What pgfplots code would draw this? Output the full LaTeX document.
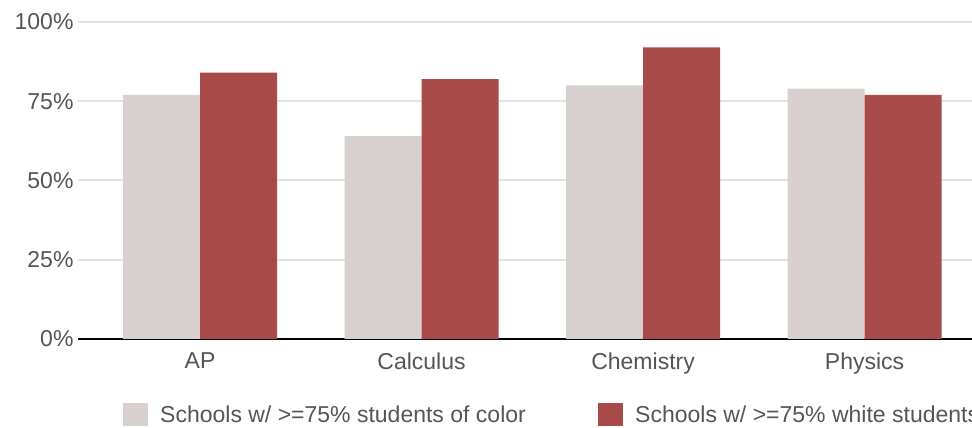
\documentclass[border=0pt]{standalone}
\usepackage{pgfplots}
\pgfplotsset{compat=1.18}
\usepackage{fontspec}
\setmainfont{Liberation Sans}
\definecolor{lightbar}{HTML}{D8D0CF}
\definecolor{redbar}{HTML}{A84A4A}
\definecolor{txt}{HTML}{555555}
\definecolor{gridc}{HTML}{E3E3E3}
\begin{document}
\begin{tikzpicture}
\begin{axis}[
  at={(78pt,89pt)}, anchor=south west,
  scale only axis, width=894pt, height=317pt,
  xmin=-0.551, xmax=3.485, ymin=0, ymax=100,
  ybar=0pt, bar width=77pt,
  /pgf/number format/assume math mode=true,
  xtick={0,1,2,3}, xticklabels={AP,Calculus,Chemistry,Physics},
  ytick={0,25,50,75,100},
  yticklabel={\pgfmathprintnumber{\tick}\%},
  ymajorgrids, grid style={gridc, line width=2pt},
  axis x line*=bottom, axis y line*=left,
  y axis line style={draw=none},
  x axis line style={black, line width=1.5pt},
  tick style={draw=none},
  tick label style={font=\fontsize{23}{27}\selectfont, text=txt},
  xticklabel style={yshift=-6pt},
  yticklabel style={xshift=-1pt},
  legend columns=2,
  legend style={at={(0,0)}, anchor=west, xshift=45pt, yshift=-75.5pt,
    draw=none, fill=none, inner sep=0pt,
    nodes={inner sep=0pt, font=\fontsize{23}{27}\selectfont, text=txt}},
  legend cell align=left,
  legend image code/.code={\fill[#1] (0pt,-11.5pt) rectangle (25pt,11.5pt); \path (37pt,0pt);},
]
\addplot[fill=lightbar, draw=none] coordinates {(0,77) (1,64) (2,80) (3,79)};
\addlegendentry{\makebox[438pt][l]{Schools w/ >=75\% students of color}}
\addplot[fill=redbar, draw=none] coordinates {(0,84) (1,82) (2,92) (3,77)};
\addlegendentry{Schools w/ >=75\% white students}
\end{axis}
\pgfresetboundingbox
\useasboundingbox (0,0) rectangle (972pt,428pt);
\end{tikzpicture}
\end{document}
